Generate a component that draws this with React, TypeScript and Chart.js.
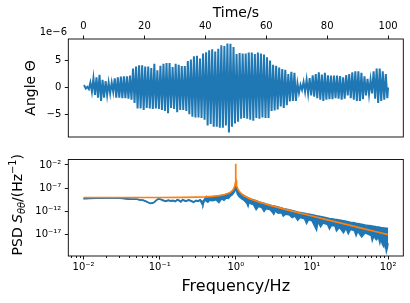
import { useEffect, useRef } from "react";
import { Chart, registerables } from "chart.js";

Chart.register(...registerables);

const FONT = "'DejaVu Sans', sans-serif";
const BLUE = "#1f77b4";
const ORANGE = "#ff7f0e";

// ---------- top panel: angle vs time (values in units of 1e-6) ----------
const timeTicks = [0, 20, 40, 60, 80, 100];
const angleTicks = [-5, 0, 5];
const angleStart = 0.3;
const angleEnd = 0.0;
// extreme values of each ~1 s oscillation cycle (cycle k spans t = k .. k+1 s)
const cycleMax = [
  0.3, 0.1, 0.9, 1.7, 1.9, 2.35, 1.4, 1.2, 0.9, 0.9,
  1.7, 1.9, 2.0, 2.05, 2.05, 2.2, 3.5, 3.9, 4.1, 4.1,
  3.9, 3.9, 3.6, 4.4, 3.2, 4.05, 4.4, 4.55, 4.55, 3.8,
  4.4, 4.2, 4.0, 4.0, 4.9, 5.2, 5.8, 5.9, 5.4, 6.3,
  6.55, 6.9, 7.1, 6.7, 7.2, 7.85, 7.7, 8.18, 8.1, 7.5,
  6.2, 6.4, 6.3, 6.3, 6.5, 6.5, 6.2, 6.5, 6.3, 6.1,
  5.6, 5.0, 4.2, 4.05, 3.7, 3.4, 3.3, 2.5, 2.9, 2.7,
  0.75, 0.5, 1.0, 1.4, 1.75, 2.25, 2.5, 2.8, 2.4, 2.7,
  2.25, 2.2, 2.2, 2.2, 2.1, 1.9, 2.3, 2.5, 2.8, 3.0,
  3.0, 2.7, 2.05, 1.6, 1.4, 3.0, 3.5, 3.5, 3.0, 2.5,
];
const cycleMin = [
  -0.2, -0.3, -0.8, -1.4, -1.9, -2.5, -1.9, -1.4, -1.1, -0.8,
  -1.9, -1.9, -2.0, -2.0, -2.1, -2.3, -2.9, -3.9, -3.9, -4.2,
  -3.8, -3.9, -4.0, -3.9, -4.0, -4.2, -4.4, -4.8, -3.8, -4.0,
  -4.6, -4.2, -4.2, -4.4, -5.0, -5.45, -5.6, -5.6, -5.7, -6.0,
  -7.1, -6.8, -7.3, -7.3, -7.5, -7.5, -7.1, -8.39, -7.3, -6.7,
  -6.4, -5.8, -5.7, -5.8, -6.0, -6.2, -5.7, -5.8, -5.6, -5.7,
  -5.7, -4.4, -4.3, -4.1, -3.55, -3.8, -3.3, -2.6, -2.5, -2.5,
  -1.0, -0.45, -0.8, -1.1, -1.5, -1.7, -2.0, -2.3, -2.5, -2.3,
  -2.2, -2.2, -2.0, -2.1, -2.3, -2.1, -1.5, -2.0, -2.3, -2.5,
  -2.5, -2.2, -1.5, -1.25, -1.1, -2.1, -2.9, -2.5, -2.3, -2.0,
];

// ---------- bottom panel: PSD (log10 values) ----------
const freqTicks = [0.01, 0.1, 1, 10, 100];
const freqMinorTicks = [
  0.007, 0.008, 0.009,
  0.02, 0.03, 0.04, 0.05, 0.06, 0.07, 0.08, 0.09,
  0.2, 0.3, 0.4, 0.5, 0.6, 0.7, 0.8, 0.9,
  2, 3, 4, 5, 6, 7, 8, 9,
  20, 30, 40, 50, 60, 70, 80, 90,
];
const psdTickExps = [-2, -7, -12, -17];

const fitFreq = [
  0.01, 0.03, 0.1, 0.2, 0.3, 0.4, 0.5, 0.6, 0.7, 0.8, 0.85, 0.9, 0.94, 0.97,
  0.985, 0.993, 0.997, 1.0, 1.003, 1.007, 1.015, 1.03, 1.06, 1.1, 1.2, 1.3,
  1.5, 1.7, 2, 2.5, 3, 4, 5, 7, 10, 15, 20, 30, 50, 70, 100,
];
const fitLogPsd = [
  -9.0, -9.0, -9.0, -8.96, -8.92, -8.85, -8.75, -8.61, -8.41, -8.1, -7.88, -7.55, -7.1, -6.5,
  -5.9, -5.3, -4.6, -1.76, -4.6, -5.3, -5.9, -6.5, -7.1, -7.6, -8.29, -8.68,
  -9.19, -9.55, -9.95, -10.44, -10.8, -11.35, -11.76, -12.36, -12.99, -13.7, -14.2, -14.9, -15.8, -16.38, -17.0,
];

const measFreq = [
  0.01, 0.012, 0.015, 0.02, 0.025, 0.03, 0.035, 0.04, 0.045, 0.05,
  0.055, 0.06, 0.065, 0.07, 0.075, 0.08, 0.085, 0.09, 0.095, 0.1,
  0.11, 0.12, 0.13, 0.14, 0.15, 0.16, 0.17, 0.18, 0.19, 0.2,
  0.21, 0.22, 0.24, 0.26, 0.28, 0.3, 0.32, 0.34, 0.36, 0.37,
  0.39, 0.41, 0.43, 0.45, 0.5, 0.55, 0.6, 0.65, 0.7, 0.75,
  0.8, 0.85, 0.9, 0.95, 0.98, 1.0, 1.02, 1.05, 1.1, 1.2,
  1.3, 1.4, 1.45, 1.5, 1.6, 1.7, 1.85, 2.0, 2.2, 2.35,
  2.5, 2.8, 3.0, 3.15, 3.3, 3.6, 4.0, 4.2, 4.5, 5.0,
  5.5, 6.0, 6.5, 7.0, 8.0, 8.5, 9.0, 10, 11.5, 12,
  13, 14, 16, 17, 18, 20, 21, 23, 26, 28,
  30, 32, 36, 38, 40, 45, 50, 55, 60, 62,
  65, 70, 75, 78, 80, 85, 88, 90, 95, 98,
  100,
];
const measLogHigh = [
  -9.2, -9.15, -9.12, -9.08, -9.08, -9.12, -9.2, -9.3, -9.35, -9.35,
  -9.5, -9.55, -9.75, -10.0, -10.25, -10.2, -10.0, -9.6, -9.3, -9.3,
  -9.55, -9.75, -9.55, -9.7, -9.6, -9.8, -9.45, -9.6, -9.85, -9.45,
  -9.6, -9.75, -9.5, -9.7, -9.95, -9.6, -9.75, -9.45, -9.8, -9.9,
  -9.3, -8.75, -9.0, -8.9, -8.8, -8.75, -8.65, -8.55, -8.45, -8.3,
  -8.15, -7.95, -7.65, -7.2, -6.7, -6.3, -6.9, -7.3, -7.75, -8.3,
  -8.65, -8.95, -9.05, -9.15, -9.35, -9.5, -9.7, -9.9, -10.1, -10.25,
  -10.4, -10.6, -10.75, -10.85, -10.9, -11.05, -11.25, -11.35, -11.45, -11.65,
  -11.8, -11.95, -12.1, -12.2, -12.4, -12.5, -12.55, -12.7, -12.9, -13.0,
  -13.1, -13.2, -13.4, -13.5, -13.55, -13.7, -13.75, -13.85, -14.0, -14.1,
  -14.2, -14.3, -14.45, -14.55, -14.6, -14.75, -14.9, -15.0, -15.1, -15.15,
  -15.2, -15.3, -15.35, -15.4, -15.45, -15.5, -15.55, -15.55, -15.6, -15.62,
  -15.65,
];
const measLogLow = [
  -9.25, -9.2, -9.17, -9.13, -9.13, -9.17, -9.25, -9.35, -9.4, -9.4,
  -9.55, -9.6, -9.8, -10.05, -10.3, -10.25, -10.05, -9.65, -9.35, -9.35,
  -9.65, -9.85, -9.65, -9.8, -9.7, -9.9, -9.55, -9.7, -9.95, -9.55,
  -9.7, -9.85, -9.6, -9.8, -10.05, -9.7, -9.85, -9.6, -10.4, -10.7,
  -9.5, -9.8, -10.0, -9.6, -9.7, -9.5, -10.1, -9.3, -9.6, -9.1,
  -9.2, -8.7, -8.4, -7.9, -7.4, -7.1, -7.6, -8.3, -8.8, -9.3,
  -9.7, -10.3, -10.9, -10.0, -10.4, -10.5, -11.6, -10.9, -11.2, -12.0,
  -11.4, -11.6, -12.1, -12.6, -11.9, -12.4, -12.3, -13.0, -12.6, -12.7,
  -13.3, -13.0, -13.9, -13.3, -13.6, -14.6, -13.8, -14.0, -16.0, -14.2,
  -15.3, -14.5, -14.8, -15.8, -15.0, -15.1, -16.2, -15.4, -16.6, -15.6,
  -16.8, -15.9, -16.1, -17.2, -16.3, -17.5, -16.6, -16.9, -17.2, -18.3,
  -17.3, -18.1, -17.6, -18.8, -18.0, -19.2, -19.6, -18.3, -20.65, -19.8,
  -18.8,
];

const SUP: Record<string, string> = {
  "-": "\u207B", "0": "\u2070", "1": "\u00B9", "2": "\u00B2", "3": "\u00B3",
  "4": "\u2074", "5": "\u2075", "6": "\u2076", "7": "\u2077", "8": "\u2078", "9": "\u2079",
};
const powLabel = (v: number) => {
  const e = Math.round(Math.log10(v));
  return "10" + String(e).split("").map((c) => SUP[c] || c).join("");
};
const numLabel = (v: number) => (v < 0 ? "\u2212" + Math.abs(v) : String(v));

const framePlugin = {
  id: "frame",
  afterDraw(chart: any) {
    const { ctx, chartArea: a } = chart;
    ctx.save();
    ctx.strokeStyle = "#000";
    ctx.lineWidth = 0.9;
    ctx.strokeRect(a.left, a.top, a.right - a.left, a.bottom - a.top);
    ctx.restore();
  },
};

const offsetTextPlugin = {
  id: "offsetText",
  afterDraw(chart: any) {
    const { ctx } = chart;
    ctx.save();
    ctx.font = `10px ${FONT}`;
    ctx.fillStyle = "#000";
    ctx.textAlign = "right";
    ctx.textBaseline = "alphabetic";
    ctx.fillText("1e\u22126", 67, 35);
    ctx.restore();
  },
};

type Part = { t: string; size: number; italic?: boolean; dy?: number };
const psdLabelParts: Part[] = [
  { t: "PSD ", size: 14 },
  { t: "S", size: 14, italic: true },
  { t: "\u03B8\u03B8", size: 9.8, italic: true, dy: 3 },
  { t: "/(Hz", size: 14 },
  { t: "\u22121", size: 9.8, dy: -5.5 },
  { t: ")", size: 14 },
];

const psdLabelPlugin = {
  id: "psdLabel",
  afterDraw(chart: any) {
    const { ctx, chartArea: a } = chart;
    ctx.save();
    ctx.translate(21.5, (a.top + a.bottom) / 2 - 3);
    ctx.rotate(-Math.PI / 2);
    ctx.fillStyle = "#000";
    ctx.textAlign = "left";
    ctx.textBaseline = "alphabetic";
    const fontOf = (p: Part) => `${p.italic ? "italic " : ""}${p.size}px ${FONT}`;
    const widths = psdLabelParts.map((p) => {
      ctx.font = fontOf(p);
      return ctx.measureText(p.t).width;
    });
    const total = widths.reduce((s, w) => s + w, 0);
    let x = -total / 2;
    psdLabelParts.forEach((p, i) => {
      ctx.font = fontOf(p);
      ctx.fillText(p.t, x, p.dy || 0);
      x += widths[i];
    });
    ctx.restore();
  },
};

const tickGrid = (len: number) => ({
  display: true,
  drawOnChartArea: false,
  drawTicks: true,
  tickLength: len,
  tickColor: "#000",
  tickWidth: 0.9,
});

export default function App() {
  const topRef = useRef<HTMLCanvasElement>(null);
  const botRef = useRef<HTMLCanvasElement>(null);

  useEffect(() => {
    const anglePts: { x: number; y: number }[] = [{ x: 0, y: angleStart }];
    cycleMax.forEach((mx, k) => {
      anglePts.push({ x: k + 0.25, y: mx });
      anglePts.push({ x: k + 0.75, y: cycleMin[k] });
    });
    anglePts.push({ x: 100, y: angleEnd });

    const top = new Chart(topRef.current!, {
      type: "line",
      data: {
        datasets: [
          {
            data: anglePts,
            borderColor: BLUE,
            borderWidth: 2,
            pointRadius: 0,
            tension: 0,
            fill: false,
          },
        ],
      },
      options: {
        animation: false,
        responsive: false,
        maintainAspectRatio: false,
        events: [],
        layout: { padding: { left: 0, right: 6.7, top: 0, bottom: 13 } },
        plugins: { legend: { display: false }, tooltip: { enabled: false } },
        scales: {
          x: {
            type: "linear",
            position: "top",
            min: -5,
            max: 105,
            afterBuildTicks: (s: any) => {
              s.ticks = timeTicks.map((v) => ({ value: v }));
            },
            afterFit: (s: any) => {
              s.height = 39;
            },
            grid: tickGrid(3.5),
            border: { display: false },
            ticks: {
              color: "#000",
              font: { family: FONT, size: 10 },
              padding: 3,
              maxRotation: 0,
              autoSkip: false,
              callback: (v: any) => numLabel(Number(v)),
            },
            title: {
              display: true,
              text: "Time/s",
              color: "#000",
              font: { family: FONT, size: 14 },
              padding: { top: 4.6, bottom: 0 },
            },
          },
          y: {
            type: "linear",
            min: -9.22,
            max: 9.01,
            afterBuildTicks: (s: any) => {
              s.ticks = angleTicks.map((v) => ({ value: v }));
            },
            afterFit: (s: any) => {
              s.width = 68.3;
            },
            grid: tickGrid(3.5),
            border: { display: false },
            ticks: {
              color: "#000",
              font: { family: FONT, size: 10 },
              padding: 3.5,
              autoSkip: false,
              callback: (v: any) => numLabel(Number(v)),
            },
            title: {
              display: true,
              text: "Angle \u0398",
              color: "#000",
              font: { family: FONT, size: 14 },
              padding: { top: 22.5, bottom: 0 },
            },
          },
        },
      },
      plugins: [framePlugin, offsetTextPlugin],
    } as any);

    const hiPts = measFreq.map((f, i) => ({ x: f, y: Math.pow(10, measLogHigh[i]) }));
    const loPts = measFreq.map((f, i) => ({ x: f, y: Math.pow(10, measLogLow[i]) }));
    const fitPts = fitFreq.map((f, i) => ({ x: f, y: Math.pow(10, fitLogPsd[i]) }));

    const bot = new Chart(botRef.current!, {
      type: "line",
      data: {
        datasets: [
          {
            data: hiPts,
            borderColor: BLUE,
            borderWidth: 1.5,
            pointRadius: 0,
            tension: 0,
            fill: false,
            order: 2,
          },
          {
            data: loPts,
            borderColor: BLUE,
            backgroundColor: BLUE,
            borderWidth: 1.5,
            pointRadius: 0,
            tension: 0,
            fill: "-1",
            order: 1,
          },
          {
            data: fitPts,
            borderColor: ORANGE,
            borderWidth: 1.7,
            pointRadius: 0,
            tension: 0,
            fill: false,
            order: 0,
          },
        ],
      },
      options: {
        animation: false,
        responsive: false,
        maintainAspectRatio: false,
        events: [],
        layout: { padding: { left: 0, right: 6.7, top: 7, bottom: 0 } },
        plugins: { legend: { display: false }, tooltip: { enabled: false } },
        scales: {
          x: {
            type: "logarithmic",
            position: "bottom",
            weight: 1,
            min: Math.pow(10, -2.2),
            max: Math.pow(10, 2.2),
            afterBuildTicks: (s: any) => {
              s.ticks = freqTicks.map((v) => ({ value: v }));
            },
            afterFit: (s: any) => {
              s.height = 47;
            },
            grid: tickGrid(3.5),
            border: { display: false },
            ticks: {
              color: "#000",
              font: { family: FONT, size: 10 },
              padding: 2,
              maxRotation: 0,
              autoSkip: false,
              callback: (v: any) => powLabel(Number(v)),
            },
            title: {
              display: true,
              text: "Frequency/Hz",
              color: "#000",
              font: { family: FONT, size: 16 },
              padding: { top: 0, bottom: 7 },
            },
          },
          xMinor: {
            type: "logarithmic",
            position: "bottom",
            weight: 0,
            min: Math.pow(10, -2.2),
            max: Math.pow(10, 2.2),
            afterBuildTicks: (s: any) => {
              s.ticks = freqMinorTicks.map((v) => ({ value: v }));
            },
            afterFit: (s: any) => {
              s.height = 0;
            },
            grid: tickGrid(2),
            border: { display: false },
            ticks: { display: false },
          },
          y: {
            type: "logarithmic",
            min: Math.pow(10, -21.59),
            max: Math.pow(10, -0.82),
            afterBuildTicks: (s: any) => {
              s.ticks = psdTickExps.map((e) => ({ value: Math.pow(10, e) }));
            },
            afterFit: (s: any) => {
              s.width = 68.3;
            },
            grid: tickGrid(3.5),
            border: { display: false },
            ticks: {
              color: "#000",
              font: { family: FONT, size: 10 },
              padding: 3.5,
              autoSkip: false,
              callback: (v: any) => powLabel(Number(v)),
            },
          },
        },
      },
      plugins: [framePlugin, psdLabelPlugin],
    } as any);

    return () => {
      top.destroy();
      bot.destroy();
    };
  }, []);

  return (
    <div
      style={{
        position: "fixed",
        left: 0,
        top: 0,
        width: 410,
        height: 303,
        background: "#fff",
        overflow: "hidden",
      }}
    >
      <canvas
        ref={topRef}
        width={410}
        height={150}
        style={{ position: "absolute", left: 0, top: 0, width: 410, height: 150 }}
      />
      <canvas
        ref={botRef}
        width={410}
        height={153}
        style={{ position: "absolute", left: 0, top: 150, width: 410, height: 153 }}
      />
    </div>
  );
}
